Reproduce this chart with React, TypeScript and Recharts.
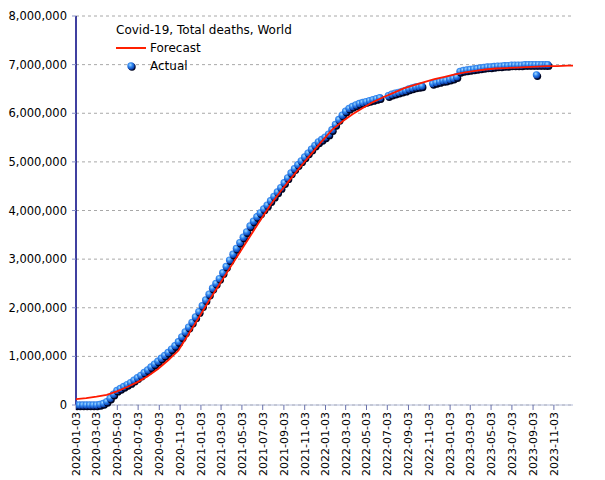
import { ComposedChart, Scatter, XAxis, YAxis, CartesianGrid } from 'recharts';

// dates are day offsets from 2020-01-03, deaths in millions
const START = '2020-01-03';

const tickDates = [
  '2020-01-03', '2020-03-03', '2020-05-03', '2020-07-03', '2020-09-03', '2020-11-03',
  '2021-01-03', '2021-03-03', '2021-05-03', '2021-07-03', '2021-09-03', '2021-11-03',
  '2022-01-03', '2022-03-03', '2022-05-03', '2022-07-03', '2022-09-03', '2022-11-03',
  '2023-01-03', '2023-03-03', '2023-05-03', '2023-07-03', '2023-09-03', '2023-11-03',
];

const yTicks = [0, 1, 2, 3, 4, 5, 6, 7, 8];

const actualDay = [
  0, 10, 20, 30, 40, 50, 60, 70, 80, 90, 100, 110, 120, 130, 140, 150, 160, 170, 180, 190,
  200, 210, 220, 230, 240, 250, 260, 270, 280, 290, 300, 310, 320, 330, 340, 350, 360, 370, 380, 390,
  400, 410, 420, 430, 440, 450, 460, 470, 480, 490, 500, 510, 520, 530, 540, 550, 560, 570, 580, 590,
  600, 610, 620, 630, 640, 650, 660, 670, 680, 690, 700, 710, 720, 730, 740, 750, 760, 770, 780, 790,
  800, 810, 820, 830, 840, 850, 860, 870, 880, 890,
  915, 925, 935, 945, 955, 965, 975, 985, 995, 1005, 1013,
  1045, 1055, 1065, 1075, 1084,
  1095, 1105, 1115, 1125, 1135, 1145, 1155, 1165, 1175, 1185, 1195, 1205, 1215, 1225, 1235, 1245,
  1255, 1265, 1275, 1285, 1295, 1305, 1315, 1325, 1335, 1345, 1349, 1355, 1365, 1375, 1382,
];

const actualDeaths = [
  0, 0, 0, 0, 0, 0, 0, 0.01, 0.03, 0.07, 0.14, 0.22, 0.3, 0.34, 0.38, 0.42, 0.46, 0.51, 0.56, 0.61,
  0.67, 0.72, 0.78, 0.84, 0.9, 0.96, 1.02, 1.08, 1.15, 1.22, 1.3, 1.4, 1.5, 1.6, 1.7, 1.81, 1.92, 2.04, 2.16, 2.28,
  2.4, 2.5, 2.6, 2.72, 2.85, 2.98, 3.1, 3.22, 3.34, 3.45, 3.56, 3.68, 3.78, 3.87, 3.95, 4.03, 4.11, 4.2, 4.29, 4.38,
  4.47, 4.57, 4.67, 4.77, 4.86, 4.94, 5.02, 5.1, 5.18, 5.26, 5.34, 5.41, 5.46, 5.51, 5.57, 5.66, 5.77, 5.87, 5.96, 6.04,
  6.1, 6.14, 6.17, 6.2, 6.22, 6.24, 6.26, 6.28, 6.3, 6.32,
  6.36, 6.39, 6.41, 6.43, 6.45, 6.47, 6.5, 6.52, 6.54, 6.55, 6.56,
  6.61, 6.63, 6.65, 6.67, 6.68,
  6.7, 6.72, 6.75, 6.86, 6.88, 6.89, 6.9, 6.91, 6.92, 6.93, 6.94, 6.95, 6.95, 6.96, 6.97, 6.97,
  6.98, 6.98, 6.99, 6.99, 6.99, 6.99, 7.0, 7.0, 7.0, 7.0, 6.79, 7.0, 7.0, 7.0, 7.0,
];

const forecastDay = [
  0, 30, 60, 90, 120, 150, 180, 210, 240, 270, 300, 330, 360, 390, 420, 450, 480, 510, 540, 570,
  600, 630, 660, 690, 720, 750, 780, 810, 840, 870, 900, 930, 960, 990, 1020, 1050, 1080, 1110, 1140, 1170,
  1200, 1230, 1260, 1290, 1320, 1350, 1380, 1410, 1440, 1456,
];

const forecastDeaths = [
  0.12, 0.14, 0.17, 0.21, 0.28, 0.37, 0.47, 0.59, 0.74, 0.92, 1.12, 1.46, 1.8, 2.15, 2.48, 2.81, 3.14, 3.47, 3.8, 4.12,
  4.4, 4.66, 4.92, 5.17, 5.42, 5.66, 5.83, 5.98, 6.11, 6.23, 6.33, 6.42, 6.51, 6.58, 6.64, 6.7, 6.75, 6.8, 6.84, 6.87,
  6.9, 6.92, 6.93, 6.94, 6.95, 6.96, 6.97, 6.97, 6.98, 6.98,
];

const DAY_MS = 86400000;
const toDay = (s: string) => Math.round((Date.parse(s) - Date.parse(START)) / DAY_MS);

const actual = actualDay.map((d, i) => ({ day: d, deaths: actualDeaths[i] }));
const forecast = forecastDay.map((d, i) => ({ day: d, deaths: forecastDeaths[i] }));
const xTicks = tickDates.map(toDay);
const labelByDay: Record<number, string> = {};
tickDates.forEach((s) => { labelByDay[toDay(s)] = s; });

const FONT = '"DejaVu Sans", sans-serif';

const Ball = (props: any) => {
  const { cx, cy } = props;
  if (cx == null || cy == null) return null;
  return (
    <g>
      <circle cx={cx + 1} cy={cy + 1.5} r={3.7} fill="#000520" />
      <circle cx={cx} cy={cy} r={3.7} fill="url(#ballGrad)" />
    </g>
  );
};

const NoDot = () => <g />;

const DateTick = (props: any) => {
  const { x, y, payload } = props;
  return (
    <text
      x={x}
      y={y}
      transform={`rotate(-90, ${x}, ${y})`}
      textAnchor="end"
      dy="0.35em"
      fontSize={11}
      fontFamily={FONT}
      fill="#000"
    >
      {labelByDay[payload.value] ?? ''}
    </text>
  );
};

const LegendBox = () => (
  <div style={{ position: 'absolute', left: 116, top: 21, fontFamily: FONT, fontSize: 12, color: '#000', lineHeight: '18px' }}>
    <div>Covid-19, Total deaths, World</div>
    <div style={{ display: 'flex', alignItems: 'center' }}>
      <span style={{ display: 'inline-block', width: 30, height: 1.5, background: '#ff2000', marginRight: 4 }} />
      Forecast
    </div>
    <div style={{ display: 'flex', alignItems: 'center' }}>
      <svg width={34} height={18}>
        <circle cx={16} cy={10} r={3.7} fill="#000520" />
        <circle cx={15} cy={9} r={3.7} fill="url(#ballGrad)" />
      </svg>
      Actual
    </div>
  </div>
);

export default function App() {
  return (
    <div style={{ position: 'absolute', left: 0, top: 0, width: 605, height: 480, background: '#fff' }}>
      <ComposedChart width={605} height={480} margin={{ top: 16, right: 32, bottom: 5, left: 6 }}>
        <defs>
          <radialGradient id="ballGrad" cx="40%" cy="35%" r="65%">
            <stop offset="0%" stopColor="#a8dcff" />
            <stop offset="45%" stopColor="#2f86f0" />
            <stop offset="100%" stopColor="#0a3aa8" />
          </radialGradient>
        </defs>
        <CartesianGrid horizontal vertical={false} stroke="#a8a8a8" strokeDasharray="3 3" />
        <XAxis
          type="number"
          dataKey="day"
          domain={[0, 1456]}
          ticks={xTicks}
          interval={0}
          height={70}
          allowDataOverflow
          tick={<DateTick />}
          tickSize={5}
          tickMargin={2}
          axisLine={{ stroke: '#b4bcd8' }}
          tickLine={{ stroke: '#6a72ac' }}
        />
        <YAxis
          type="number"
          domain={[0, 8]}
          ticks={yTicks}
          interval={0}
          width={70}
          tickSize={4}
          tickMargin={5}
          tickFormatter={(v: number) => (v * 1000000).toLocaleString('en-US')}
          tick={{ fontSize: 11.5, fontFamily: FONT, fill: '#000' }}
          axisLine={{ stroke: '#000080', strokeWidth: 1.5 }}
          tickLine={{ stroke: '#8890c4' }}
        />
        <Scatter data={actual} dataKey="deaths" shape={<Ball />} isAnimationActive={false} />
        <Scatter
          data={forecast}
          dataKey="deaths"
          shape={<NoDot />}
          line={{ stroke: '#ff1a00', strokeWidth: 1.8 }}
          lineType="joint"
          isAnimationActive={false}
        />
      </ComposedChart>
      <LegendBox />
    </div>
  );
}
